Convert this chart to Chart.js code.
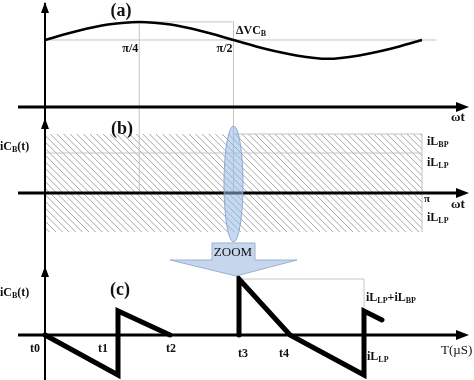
<!DOCTYPE html>
<html><head><meta charset="utf-8">
<script src="https://cdn.jsdelivr.net/npm/chart.js@4/dist/chart.umd.min.js"></script>
<style>html,body{margin:0;padding:0;background:#fff;}canvas{display:block;}</style>
</head><body>
<canvas id="c" width="474" height="380"></canvas>
<script>
// ---- Data ----
// Panel (a): capacitor voltage vs ωt (degrees), normalised to average voltage
const wtDeg = [0, 15, 30, 45, 60, 75, 90, 105, 120, 135, 150, 165, 180];
const vcB   = [1.00, 1.13, 1.23, 1.27, 1.23, 1.13, 1.00, 0.87, 0.77, 0.72, 0.77, 0.87, 1.00];
const vcAvg = 1.00, vcPeak = 1.27;
// Panel (b): current band (units of iL_LP)
const iLLP = 1.0, iLBPtop = 1.475, iLLPneg = -0.975;
// Panel (c): capacitor current sawtooth, time in µs, current in units of iL_LP
const tSaw1 = [0, 7.3, 7.3, 12.5];
const iSaw1 = [0, -1.0, 0.6, 0];
const tSaw2 = [19.4, 19.4, 24.5, 31.9, 31.9, 33.7];
const iSaw2 = [0, 1.4, 0, -1.0, 0.6, 0.375];
const tickNames = ['t0', 't1', 't2', 't3', 't4'];
const tickTimes = [0, 7.3, 12.5, 19.4, 24.5];
const phaseLabels = ['π/4', 'π/2'];
const phaseDeg = [45, 90];

const pts = (xs, ys) => xs.map((x, i) => ({x, y: ys[i]}));

const F = '"Liberation Serif","Times New Roman",serif';
function drawRich(ctx, parts, x, y, align, size, bold) {
  const w = bold === false ? '' : 'bold ';
  let total = 0;
  parts.forEach(p => { ctx.font = w + (p[1] ? Math.round(size*0.68) : size) + 'px ' + F; total += ctx.measureText(p[0]).width; });
  let cx = align === 'center' ? x - total/2 : align === 'right' ? x - total : x;
  ctx.textAlign = 'left'; ctx.textBaseline = 'middle'; ctx.fillStyle = '#111';
  parts.forEach(p => {
    ctx.font = w + (p[1] ? Math.round(size*0.68) : size) + 'px ' + F;
    ctx.fillText(p[0], cx, y + (p[1] ? size*0.25 : 0));
    cx += ctx.measureText(p[0]).width;
  });
}

const deco = {
  id: 'deco',
  beforeDatasetsDraw(chart) {
    const ctx = chart.ctx, s = chart.scales;
    const xA = s.xA, yA = s.yA, yB = s.yB, yC = s.yC, xC = s.xC;
    ctx.save();
    // hatch region in (b)
    const hx0 = xA.getPixelForValue(0), hx1 = xA.getPixelForValue(180);
    const hy0 = yB.getPixelForValue(iLBPtop), hy1 = yB.getPixelForValue(iLLPneg);
    ctx.beginPath(); ctx.rect(hx0, hy0, hx1 - hx0, hy1 - hy0); ctx.clip();
    ctx.strokeStyle = '#9c9c9c'; ctx.lineWidth = 0.9;
    for (let x = hx0 - 120; x < hx1 + 10; x += 6.6) {
      ctx.beginPath(); ctx.moveTo(x, hy0); ctx.lineTo(x + (hy1 - hy0), hy1); ctx.stroke();
    }
    ctx.restore();
    ctx.save();
    ctx.strokeStyle = '#c4c4c4'; ctx.lineWidth = 1;
    const line = (a, b, c, d) => { ctx.beginPath(); ctx.moveTo(a, b); ctx.lineTo(c, d); ctx.stroke(); };
    // guide lines
    const pPeak = yA.getPixelForValue(vcPeak), pAvg = yA.getPixelForValue(vcAvg);
    line(xA.getPixelForValue(0), pAvg, xA.getPixelForValue(187), pAvg);
    line(xA.getPixelForValue(45), pPeak, xA.getPixelForValue(90), pPeak);
    phaseDeg.forEach(d => line(xA.getPixelForValue(d), pPeak, xA.getPixelForValue(d), yB.getPixelForValue(0)));
    line(hx0, yB.getPixelForValue(iLLP), hx1, yB.getPixelForValue(iLLP));
    line(xA.getPixelForValue(90), hy0, hx1, hy0);
    line(hx1, hy0, hx1, hy1);
    // guide lines (c)
    const pk = yC.getPixelForValue(iSaw2[1]);
    line(xC.getPixelForValue(tSaw2[0]), pk, xC.getPixelForValue(tSaw2[3]), pk);
    line(xC.getPixelForValue(tSaw2[3]), pk, xC.getPixelForValue(tSaw2[3]), yC.getPixelForValue(iSaw2[4]));
    ctx.restore();
    // axes
    ctx.save();
    ctx.strokeStyle = '#000'; ctx.fillStyle = '#000';
    const ax = xA.getPixelForValue(0);
    ctx.lineWidth = 2;
    line(ax, 3, ax, chart.height);
    ctx.lineWidth = 3;
    [yA, yB, yC].forEach(sc => {
      const py = sc.getPixelForValue(0);
      line(18, py, 458, py);
      ctx.beginPath(); ctx.moveTo(469, py); ctx.lineTo(456, py - 5); ctx.lineTo(456, py + 5); ctx.closePath(); ctx.fill();
    });
    [[yA, 105], [yB, 75], [yC, 69]].forEach(([sc, off]) => {
      const ty = sc.getPixelForValue(0) - off;
      ctx.beginPath(); ctx.moveTo(ax, ty); ctx.lineTo(ax - 4, ty + 11); ctx.lineTo(ax + 4, ty + 11); ctx.closePath(); ctx.fill();
    });
    ctx.restore();
  },
  afterDatasetsDraw(chart) {
    const ctx = chart.ctx, s = chart.scales;
    const xA = s.xA, yB = s.yB;
    ctx.save();
    // magnifier ellipse at π/2
    const ex = xA.getPixelForValue(90), ey = yB.getPixelForValue(0.225);
    ctx.beginPath(); ctx.ellipse(ex, ey, 9.5, 58, 0, 0, Math.PI * 2);
    ctx.fillStyle = 'rgba(150,185,230,0.55)'; ctx.fill();
    ctx.strokeStyle = '#8ea8d2'; ctx.lineWidth = 1; ctx.stroke();
    // ZOOM callout
    ctx.beginPath();
    ctx.moveTo(212, 243); ctx.lineTo(255, 243); ctx.lineTo(255, 260); ctx.lineTo(297, 260);
    ctx.lineTo(236, 276); ctx.lineTo(170, 260); ctx.lineTo(212, 260); ctx.closePath();
    ctx.fillStyle = '#c6d6ec'; ctx.fill(); ctx.strokeStyle = '#9ab0d3'; ctx.stroke();
    ctx.restore();
  },
  afterDraw(chart) {
    const ctx = chart.ctx, s = chart.scales;
    const xA = s.xA, xC = s.xC;
    ctx.save();
    drawRich(ctx, [['(a)']], 121, 11, 'center', 18);
    drawRich(ctx, [['(b)']], 122, 129, 'center', 18);
    drawRich(ctx, [['(c)']], 120, 290, 'center', 18);
    phaseLabels.forEach((t, i) => drawRich(ctx, [[t]], xA.getPixelForValue(phaseDeg[i]) - 1, 49, 'right', 12));
    drawRich(ctx, [['ΔVC'], ['B', 1]], 236, 31, 'left', 12);
    drawRich(ctx, [['ωt']], 451, 118, 'left', 13);
    drawRich(ctx, [['ωt']], 451, 205, 'left', 13);
    drawRich(ctx, [['iC'], ['B', 1], ['(t)']], 0, 147, 'left', 12);
    drawRich(ctx, [['iC'], ['B', 1], ['(t)']], 0, 293, 'left', 12);
    drawRich(ctx, [['iL'], ['BP', 1]], 427, 142, 'left', 12);
    drawRich(ctx, [['iL'], ['LP', 1]], 427, 163, 'left', 12);
    drawRich(ctx, [['π']], 424, 199, 'left', 11);
    drawRich(ctx, [['iL'], ['LP', 1]], 427, 218, 'left', 12);
    drawRich(ctx, [['ZOOM']], 233, 253, 'center', 13, false);
    const tOff = [-10, -15, 1, 4, -6], tY = [349, 349, 349, 354, 354];
    tickNames.forEach((t, i) => drawRich(ctx, [[t]], xC.getPixelForValue(tickTimes[i]) + tOff[i], tY[i], 'center', 12));
    drawRich(ctx, [['iL'], ['LP', 1], ['+iL'], ['BP', 1]], 366, 298, 'left', 12);
    drawRich(ctx, [['iL'], ['LP', 1]], 367, 357, 'left', 12);
    drawRich(ctx, [['T(µS)']], 441, 351, 'left', 13, false);
    ctx.restore();
  }
};

new Chart(document.getElementById('c'), {
  type: 'scatter',
  data: {
    datasets: [
      { data: pts(wtDeg, vcB), xAxisID: 'xA', yAxisID: 'yA', showLine: true, borderColor: '#000', borderWidth: 2.5, pointRadius: 0, cubicInterpolationMode: 'monotone', fill: false },
      { data: pts(tSaw1, iSaw1), xAxisID: 'xC', yAxisID: 'yC', showLine: true, borderColor: '#000', borderWidth: 5, pointRadius: 0, tension: 0, borderJoinStyle: 'miter', borderCapStyle: 'round' },
      { data: pts(tSaw2, iSaw2), xAxisID: 'xC', yAxisID: 'yC', showLine: true, borderColor: '#000', borderWidth: 5, pointRadius: 0, tension: 0, borderJoinStyle: 'miter', borderCapStyle: 'round' }
    ]
  },
  options: {
    responsive: false, animation: false, devicePixelRatio: 1,
    layout: { padding: 0 },
    plugins: { legend: { display: false }, tooltip: { enabled: false } },
    scales: {
      xA: { type: 'linear', axis: 'x', display: false, min: -21.485, max: 204.83 },
      xC: { type: 'linear', axis: 'x', display: false, min: -4.5, max: 42.9 },
      yA: { type: 'linear', axis: 'y', display: false, min: -4.0746, max: 1.597 },
      yB: { type: 'linear', axis: 'y', display: false, min: -4.675, max: 4.825 },
      yC: { type: 'linear', axis: 'y', display: false, min: -1.125, max: 8.375 }
    }
  },
  plugins: [deco]
});
</script>
</body></html>
